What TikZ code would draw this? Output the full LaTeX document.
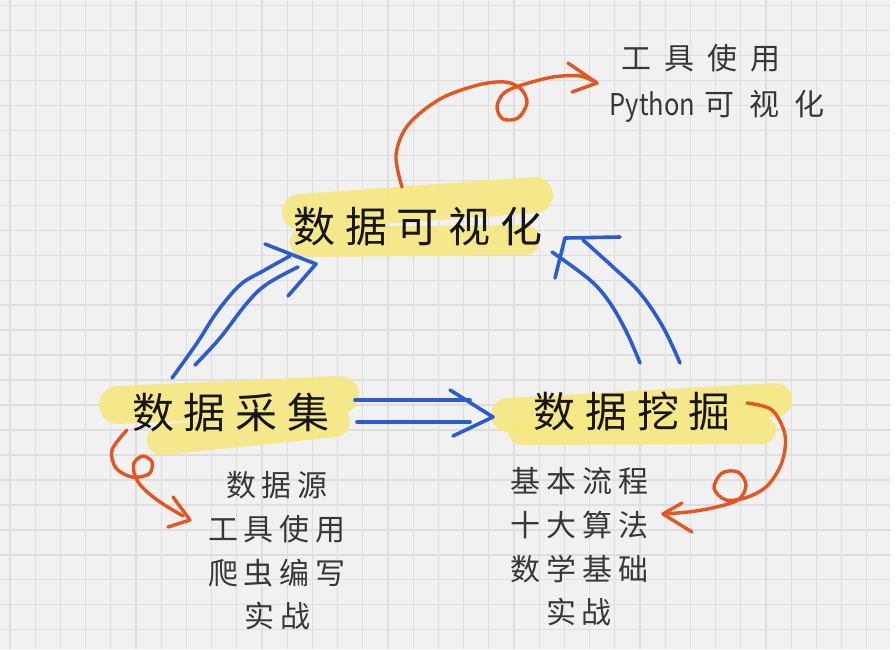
\documentclass[tikz,border=0pt]{standalone}
\usepackage{fontspec}
\setmainfont{Noto Sans CJK SC}
\newfontfamily\pyfont[FakeStretch=0.85]{Noto Sans CJK SC}
\newcommand\spread[2][6pt]{\def\spgap{#1}\spreadi#2\relax}
\def\spreadi#1#2{#1\ifx#2\relax\else\hspace{\spgap}\expandafter\spreadi\expandafter#2\fi}
\definecolor{bgc}{RGB}{241,241,241}
\definecolor{gridc}{RGB}{222,222,222}
\definecolor{hlc}{RGB}{246,232,128}
\definecolor{bluec}{RGB}{43,92,212}
\definecolor{orangec}{RGB}{228,86,32}
\definecolor{inkc}{RGB}{22,22,22}
\definecolor{subc}{RGB}{55,55,55}
\tikzset{
  gridline/.style={draw=gridc, line width=1.3pt},
  hl/.style={draw=hlc, line cap=round, opacity=0.9},
  bluepen/.style={draw=bluec, line width=3.6pt, line cap=round, line join=round},
  orangepen/.style={draw=orangec, line width=3.4pt, line cap=round, line join=round},
  mainlbl/.style={inner sep=0pt, text=inkc, font=\fontsize{42}{50}\selectfont},
  sublbl/.style={inner sep=0pt, text=subc, align=center, font=\fontsize{30}{43.7}\selectfont},
  toplbl/.style={inner sep=0pt, text=subc, font=\fontsize{30}{36}\selectfont}
}
\begin{document}
\begin{tikzpicture}[x=1pt, y=-1pt]
\useasboundingbox (0,0) rectangle (896,649);
\fill[white] (0,0) rectangle (896,649);
\fill[bgc] (0,0) rectangle (890,649);
\foreach \i in {0,...,34} \draw[gridline] ({10+25.2*\i},0) -- ({10+25.2*\i},649);
\foreach \j in {0,...,25} \draw[gridline] (0,{5.5+24.97*\j}) -- (890,{5.5+24.97*\j});

% highlights
\draw[hl, line width=36pt] (300,212) -- (535,195);
\draw[hl, line width=30pt] (305,242) -- (525,240);
\draw[hl, line width=38pt] (118,405) -- (340,395);
\draw[hl, line width=30pt] (162,440) -- (335,422);
\draw[hl, line width=34pt] (508,415) -- (775,400);
\draw[hl, line width=28pt] (522,431) -- (762,430);

% labels
\node[mainlbl] (vis) at (418,227) {\spread[10pt]{数据可视化}};
\node[mainlbl] (collect) at (231,413) {\spread[10pt]{数据采集}};
\node[mainlbl] (mine) at (632,411) {\spread[10pt]{数据挖掘}};
\node[toplbl] (tools) at (701,58) {\spread[13pt]{工具使用}};
\node[toplbl] (pyvis) at (717,106) {{\pyfont Python}\hspace{9pt}\spread[15pt]{可视化}};
\node[sublbl] (clist) at (277,551) {\spread{数据源}\\\spread{工具使用}\\\spread{爬虫编写}\\\spread{实战}};
\node[sublbl] (mlist) at (579,547) {\spread{基本流程}\\\spread{十大算法}\\\spread{数学基础}\\\spread{实战}};

% connector end points
\coordinate (cA) at (172,378);
\coordinate (cB) at (195,365);
\coordinate (vA) at (290,256);
\coordinate (vB) at (298,267);
\coordinate (vtip) at (316,264);
\coordinate (mC) at (640,363);
\coordinate (mD) at (680,363);
\coordinate (vC) at (552,252);
\coordinate (vD) at (583,240);
\coordinate (vtip2) at (565,238);
\coordinate (hA1) at (355,400);
\coordinate (hA2) at (470,400);
\coordinate (hB1) at (357,422);
\coordinate (hB2) at (470,422);
\coordinate (mtip) at (493,417);
\coordinate (vtop) at (402,187);
\coordinate (ttip) at (597,83);
\coordinate (cstart) at (127,430);
\coordinate (ctip) at (190,520);
\coordinate (mstart) at (747,403);
\coordinate (mltip) at (663,514);

% blue: collect -> vis
\draw[bluepen] plot[smooth, tension=0.6] coordinates {(cA) (197,343) (217,312) (240,285) (263,271) (vA)};
\draw[bluepen] plot[smooth, tension=0.6] coordinates {(cB) (220,338) (247,303) (267,284) (vB)};
\draw[bluepen] (265,244) -- (vtip) -- (288,296);

% blue: mine -> vis
\draw[bluepen] plot[smooth, tension=0.6] coordinates {(mC) (627,333) (610,303) (590,280) (vC)};
\draw[bluepen] plot[smooth, tension=0.6] coordinates {(mD) (663,327) (640,293) (613,267) (vD)};
\draw[bluepen] (620,237) -- (vtip2) -- (555,278);

% blue: collect -> mine
\draw[bluepen] (hA1) -- (hA2);
\draw[bluepen] (hB1) -- (hB2);
\draw[bluepen] (450,390) -- (mtip) -- (453,436);

% orange: vis -> tools
\draw[orangepen] plot[smooth, tension=0.55] coordinates {(vtop) (396,155) (408,125) (440,99) (478,85) (505,82) (521,89) (527,103) (518,118) (503,119) (497,107) (504,93) (522,85) (553,77) (580,76) (ttip)};
\draw[orangepen] (568,63) -- (ttip) -- (572,92);

% orange: collect -> list
\draw[orangepen] plot[smooth, tension=0.55] coordinates {(cstart) (112,450) (116,468) (132,477) (149,474) (152,462) (143,456) (134,463) (135,476) (143,488) (160,502) (183,516)};
\draw[orangepen] (173,497) -- (ctip) -- (168,527);

% orange: mine -> list
\draw[orangepen] plot[smooth, tension=0.55] coordinates {(mstart) (772,410) (785,435) (782,462) (768,485) (748,497) (726,500) (714,488) (722,473) (738,472) (746,485) (738,500) (712,508) (688,512) (mltip)};
\draw[orangepen] (682,503) -- (mltip) -- (692,532);
\end{tikzpicture}
\end{document}
